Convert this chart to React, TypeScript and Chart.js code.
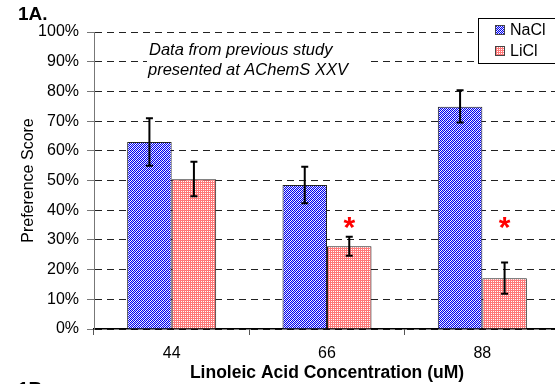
import React, { useEffect, useRef } from 'react';
import { Chart, registerables } from 'chart.js';

Chart.register(...registerables);

const FONT = "'Liberation Sans', Arial, sans-serif";

const categories = ['44', '66', '88'];
const seriesNames = ['NaCl', 'LiCl'];
const naclValues = [63, 48.5, 74.8];
const naclLow = [55, 42.3, 69.5];
const naclHigh = [71, 54.6, 80.4];
const liclValues = [50.4, 27.9, 17.1];
const liclLow = [44.7, 24.7, 11.9];
const liclHigh = [56.3, 31.1, 22.4];
const liclStars: (number | null)[] = [null, 36, 36];
const noteLines = ['Data from previous study', 'presented at AChemS XXV'];
const panelTitle = '1A.';
const nextPanelTitle = '1B.';
const xTitle = 'Linoleic Acid Concentration (uM)';
const yTitle = 'Preference Score';

function makePattern(ctx: CanvasRenderingContext2D, kind: 'blue' | 'red') {
  const c = document.createElement('canvas');
  c.width = 4;
  c.height = 4;
  const g = c.getContext('2d')!;
  g.fillStyle = '#ffffff';
  g.fillRect(0, 0, 4, 4);
  for (let y = 0; y < 4; y++) {
    for (let x = 0; x < 4; x++) {
      if (kind === 'blue') {
        g.fillStyle = (x + y) % 2 === 0 ? '#0000f0' : (x + y) % 4 === 1 ? '#c8c8ff' : '#ffffff';
        g.fillRect(x, y, 1, 1);
      } else {
        if (!(x % 2 === 1 && y % 2 === 1)) {
          g.fillStyle = '#ff7878';
          g.fillRect(x, y, 1, 1);
        }
      }
    }
  }
  return ctx.createPattern(c, 'repeat')!;
}

export default function App() {
  const ref = useRef<HTMLCanvasElement | null>(null);

  useEffect(() => {
    const canvas = ref.current;
    if (!canvas) return;
    const ctx0 = canvas.getContext('2d')!;
    const bluePat = makePattern(ctx0, 'blue');
    const redPat = makePattern(ctx0, 'red');
    const patterns = [bluePat, redPat];
    const lows = [naclLow, liclLow];
    const highs = [naclHigh, liclHigh];

    const overlay = {
      id: 'overlay',
      beforeDatasetsDraw(chart: any) {
        const ctx = chart.ctx as CanvasRenderingContext2D;
        ctx.save();
        ctx.fillStyle = '#ffffff';
        ctx.fillRect(147, 38, 223, 46);
        ctx.fillStyle = '#000';
        ctx.font = `italic 16.5px ${FONT}`;
        ctx.textAlign = 'left';
        ctx.textBaseline = 'alphabetic';
        ctx.fillText(noteLines[0], 149, 55);
        ctx.fillText(noteLines[1], 148, 75);
        ctx.restore();
      },
      afterDatasetsDraw(chart: any) {
        const ctx = chart.ctx as CanvasRenderingContext2D;
        const ys = chart.scales.y;
        ctx.save();
        ctx.strokeStyle = '#000';
        ctx.lineWidth = 2;
        for (let d = 0; d < 2; d++) {
          const meta = chart.getDatasetMeta(d);
          meta.data.forEach((el: any, j: number) => {
            const x = el.x;
            const y1 = ys.getPixelForValue(lows[d][j]);
            const y2 = ys.getPixelForValue(highs[d][j]);
            ctx.beginPath();
            ctx.moveTo(x, y1);
            ctx.lineTo(x, y2);
            ctx.moveTo(x - 3.5, y1);
            ctx.lineTo(x + 3.5, y1);
            ctx.moveTo(x - 3.5, y2);
            ctx.lineTo(x + 3.5, y2);
            ctx.stroke();
          });
        }
        // significance stars
        const meta = chart.getDatasetMeta(1);
        ctx.fillStyle = '#ff0000';
        ctx.font = `bold 30px ${FONT}`;
        ctx.textAlign = 'center';
        ctx.textBaseline = 'alphabetic';
        meta.data.forEach((el: any, j: number) => {
          const v = liclStars[j];
          if (v == null) return;
          const y = ys.getPixelForValue(v);
          ctx.fillText('*', el.x, y + 15);
        });
        ctx.restore();
      },
      afterDraw(chart: any) {
        const ctx = chart.ctx as CanvasRenderingContext2D;
        ctx.save();
        // legend
        ctx.fillStyle = '#fff';
        ctx.fillRect(478.5, 18.5, 100, 45);
        ctx.strokeStyle = '#000';
        ctx.lineWidth = 1;
        ctx.strokeRect(478.5, 18.5, 100, 45);
        const rows = [30, 51];
        for (let i = 0; i < 2; i++) {
          ctx.fillStyle = patterns[i];
          ctx.fillRect(495, rows[i] - 5, 10, 10);
          ctx.strokeStyle = '#444';
          ctx.strokeRect(495.5, rows[i] - 4.5, 9, 9);
          ctx.fillStyle = '#000';
          ctx.font = `16px ${FONT}`;
          ctx.textAlign = 'left';
          ctx.textBaseline = 'middle';
          ctx.fillText(seriesNames[i], 510, rows[i] + 1);
        }
        // panel titles
        ctx.fillStyle = '#000';
        ctx.font = `bold 19px ${FONT}`;
        ctx.textAlign = 'left';
        ctx.textBaseline = 'alphabetic';
        ctx.fillText(panelTitle, 18, 19.5);
        ctx.fillText(nextPanelTitle, 18, 395);
        ctx.restore();
      },
    };

    const chart = new Chart(canvas, {
      type: 'bar',
      data: {
        labels: categories,
        datasets: [
          {
            label: seriesNames[0],
            data: naclValues,
            backgroundColor: bluePat,
            borderColor: '#222',
            borderWidth: 1,
            categoryPercentage: 0.573,
            barPercentage: 1,
          },
          {
            label: seriesNames[1],
            data: liclValues,
            backgroundColor: redPat,
            borderColor: '#222',
            borderWidth: 1,
            categoryPercentage: 0.573,
            barPercentage: 1,
          },
        ],
      },
      options: {
        responsive: false,
        animation: false,
        layout: { padding: { top: 32, right: 10, left: 0, bottom: 0 } },
        plugins: {
          legend: { display: false },
          tooltip: { enabled: false },
          title: { display: false },
        },
        scales: {
          x: {
            offset: true,
            grid: {
              display: true,
              offset: true,
              drawOnChartArea: false,
              drawTicks: true,
              tickLength: 6,
              tickColor: '#555',
              tickWidth: 1,
            },
            border: { display: true, color: '#000', width: 1.5 },
            ticks: { color: '#000', font: { family: FONT, size: 16 }, padding: 9, maxRotation: 0 },
            title: {
              display: true,
              text: xTitle,
              color: '#000',
              font: { family: FONT, size: 17.5, weight: 'bold' },
              padding: { top: 0, bottom: 0 },
            },
            afterFit: (s: any) => {
              s.height = 55;
            },
          },
          y: {
            min: 0,
            max: 100,
            ticks: {
              stepSize: 10,
              callback: (v: any) => v + '%',
              color: '#000',
              font: { family: FONT, size: 16 },
              padding: 8,
            },
            grid: { color: '#222', lineWidth: 1, tickLength: 7, tickColor: '#777', drawTicks: true },
            border: { display: true, color: '#777', width: 1, dash: [7, 5] },
            title: {
              display: true,
              text: yTitle,
              color: '#000',
              font: { family: FONT, size: 16 },
              padding: { top: 19, bottom: 0 },
            },
            afterFit: (s: any) => {
              s.width = 94;
            },
          },
        },
      } as any,
      plugins: [overlay],
    });

    return () => {
      chart.destroy();
    };
  }, []);

  return (
    <div
      style={{
        position: 'fixed',
        left: 0,
        top: 0,
        width: 555,
        height: 384,
        overflow: 'hidden',
        background: '#fff',
      }}
    >
      <canvas ref={ref} width={570} height={384} style={{ display: 'block', width: 570, height: 384 }} />
    </div>
  );
}
